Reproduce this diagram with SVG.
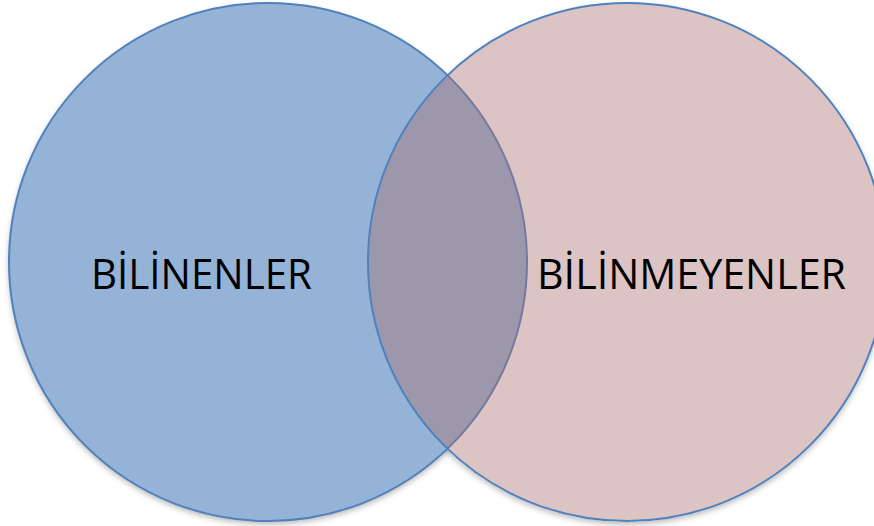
<svg xmlns="http://www.w3.org/2000/svg" width="874" height="526" viewBox="0 0 874 526">
<style>
.lbl{font-family:"Open Sans","Liberation Sans",sans-serif;font-size:42px;fill:#000}
.c{stroke:#4F81BD;stroke-width:2}
.shadow{fill:#000;fill-opacity:0.3;filter:url(#blur)}
</style>
<defs>
<filter id="blur" x="-10%" y="-10%" width="120%" height="120%">
<feGaussianBlur stdDeviation="3"/>
</filter>
</defs>
<rect width="874" height="526" fill="#fff"/>
<circle class="shadow" cx="268" cy="265" r="259"/>
<circle class="shadow" cx="627" cy="265" r="259"/>
<circle cx="627" cy="262" r="260" fill="#fff"/>
<g id="bilinenler">
<circle class="c" cx="268" cy="262" r="259" fill="#95B3D7"/>
</g>
<g id="bilinmeyenler">
<circle cx="627" cy="262" r="259" fill="#AB7070" fill-opacity="0.41"/>
<circle class="c" cx="627" cy="262" r="259" fill="none"/>
</g>
<g id="labels">
<text class="lbl" x="91" y="289" textLength="221" lengthAdjust="spacingAndGlyphs">BİLİNENLER</text>
<text class="lbl" x="537" y="289" textLength="309" lengthAdjust="spacingAndGlyphs">BİLİNMEYENLER</text>
</g>
<g id="connectors"/>
</svg>
